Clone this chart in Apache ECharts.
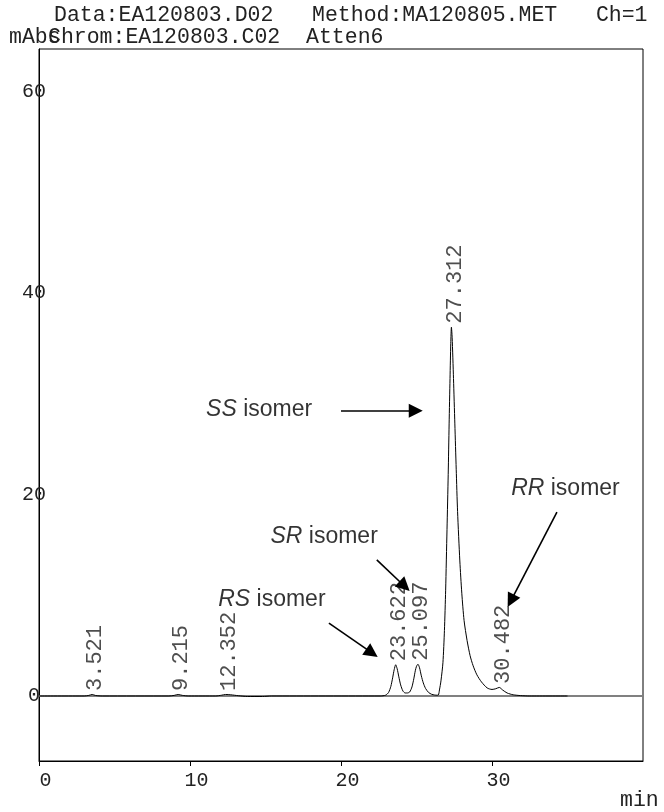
<!DOCTYPE html>
<html><head><meta charset="utf-8">
<script src="https://cdn.jsdelivr.net/npm/echarts@6/dist/echarts.min.js"></script>
<style>html,body{margin:0;padding:0;background:#fff}#c{width:664px;height:812px}</style>
</head><body><div id="c"></div>
<script>
// chromatogram trace: retention time (min) and absorbance (mAbs)
const timeMin = [0, 3.0, 3.3, 3.521, 3.75, 4.2, 8.6, 8.95, 9.215, 9.5, 9.9, 11.7, 12.1, 12.352, 12.7, 13.2, 13.8, 14.8, 15.4,
  22.6, 22.95, 23.15, 23.3, 23.42, 23.52, 23.622, 23.72, 23.83, 23.95, 24.1, 24.25, 24.4,
  24.55, 24.7, 24.82, 24.92, 25.0, 25.097, 25.2, 25.32, 25.45, 25.6, 25.8, 26.0, 26.2, 26.35,
  26.45, 26.52, 26.62, 26.75, 26.85, 26.93, 27.02, 27.10, 27.16, 27.22, 27.27, 27.312, 27.36, 27.45, 27.54, 27.63, 27.72,
  27.87, 28.0, 28.15, 28.35, 28.55, 28.75, 29.0, 29.3, 29.68, 30.0, 30.25, 30.482, 30.7, 31.0, 31.4, 31.9, 32.5, 35.0];
const absorb = [0, 0, 0.06, 0.15, 0.05, 0, 0, 0.06, 0.15, 0.06, 0, 0, 0.08, 0.15, 0.12, 0.03, -0.05, -0.05, 0,
  0, 0.08, 0.35, 0.95, 1.8, 2.6, 3.1, 2.7, 1.9, 1.1, 0.5, 0.3, 0.3,
  0.4, 0.9, 1.7, 2.5, 2.95, 3.15, 2.8, 2.0, 1.3, 0.75, 0.35, 0.17, 0.1, 0.08,
  0.1, 0.6, 1.5, 3.3, 6.5, 10.5, 16.5, 22, 27, 31.5, 35, 36.6, 35.6, 31.5, 27, 22.5, 18.3,
  13.4, 10.2, 7.5, 5.5, 4.0, 3.0, 2.1, 1.4, 0.8, 0.65, 0.72, 0.85, 0.6, 0.3, 0.12, 0.04, 0, 0];

// integrated peaks
const peakTimes = [3.521, 9.215, 12.352, 23.622, 25.097, 27.312, 30.482];
const peakHeights = [0.15, 0.15, 0.15, 3.1, 3.15, 36.6, 0.85];
const peakLabels = ['3.521', '9.215', '12.352', '23.622', '25.097', '27.312', '30.482'];

// axes
const xTicks = [0, 10, 20, 30];
const yTicks = [0, 20, 40, 60];

// isomer annotations (text position and arrow, in data units)
const noteTexts = ['{i|SS} isomer', '{i|SR} isomer', '{i|RS} isomer', '{i|RR} isomer'];
const noteT = [11.1, 15.36, 11.9, 31.3];
const noteV = [28.4, 15.8, 9.5, 20.5];
const arrowFrom = [[20.0, 28.3], [22.37, 13.5], [19.2, 7.24], [34.3, 18.25]];
const arrowTo = [[24.95, 28.3], [24.21, 10.89], [22.05, 4.27], [31.25, 9.44]];

const mono = 'Liberation Mono';
const hdrFont = '21.5px "Liberation Mono"';
const chart = echarts.init(document.getElementById('c'), null, {renderer: 'canvas'});
chart.setOption({
  animation: false,
  backgroundColor: '#fff',
  grid: {left: 39, right: 21, top: 49, bottom: 51, show: true, borderColor: '#000', borderWidth: 1},
  xAxis: {
    type: 'value', min: 0, max: 40, interval: 10,
    axisLine: {onZero: false, lineStyle: {color: '#000', width: 1}},
    axisTick: {show: true, inside: false, length: 5, lineStyle: {color: '#000'}, customValues: xTicks},
    axisLabel: {customValues: xTicks, fontFamily: mono, fontSize: 20, color: '#222', margin: 10, padding: [0, 0, 0, 13]},
    splitLine: {show: false}
  },
  yAxis: {
    type: 'value', min: -6.45, max: 64.2,
    axisLine: {show: true, onZero: false, lineStyle: {color: '#000', width: 1}},
    axisTick: {show: false},
    axisLabel: {customValues: yTicks, fontFamily: mono, fontSize: 20, color: '#222', align: 'center', margin: 5},
    splitLine: {show: false}
  },
  graphic: [
    {type: 'text', left: 54, top: 4, style: {text: 'Data:EA120803.D02   Method:MA120805.MET   Ch=1', font: hdrFont, fill: '#222'}},
    {type: 'text', left: 9, top: 26, style: {text: 'mAbs', font: hdrFont, fill: '#222'}},
    {type: 'text', left: 48, top: 26, style: {text: 'Chrom:EA120803.C02  Atten6', font: hdrFont, fill: '#222'}},
    {type: 'text', left: 620, top: 789, style: {text: 'min', font: hdrFont, fill: '#222'}}
  ],
  series: [
    {
      type: 'line', data: [[0, 0], [40, 0]], symbol: 'none', silent: true, z: 1,
      lineStyle: {color: '#808080', width: 2}
    },
    {
      type: 'line', data: timeMin.map((t, i) => [t, absorb[i]]), symbol: 'none', smooth: 0.25, z: 3,
      lineStyle: {color: '#000', width: 1}
    },
    {
      type: 'scatter', z: 4, symbolSize: 1, itemStyle: {color: 'rgba(0,0,0,0)'},
      data: peakTimes.map((t, i) => ({value: [t, peakHeights[i]], name: peakLabels[i]})),
      label: {show: true, formatter: p => p.name, position: [4, -3], rotate: 90, align: 'left', verticalAlign: 'middle',
        fontFamily: mono, fontSize: 22, color: '#222'}
    },
    {
      type: 'scatter', z: 4, symbolSize: 1, itemStyle: {color: 'rgba(0,0,0,0)'},
      data: noteTexts.map((s, i) => ({value: [noteT[i], noteV[i]], name: s})),
      label: {show: true, formatter: p => p.name, position: [0, 0], align: 'left', verticalAlign: 'middle',
        fontFamily: 'Liberation Sans', fontSize: 23, color: '#000',
        rich: {i: {fontStyle: 'italic', fontFamily: 'Liberation Sans', fontSize: 23, color: '#000'}}}
    },
    {
      type: 'lines', coordinateSystem: 'cartesian2d', z: 5, silent: true,
      symbol: ['none', 'triangle'], symbolSize: [11, 14],
      lineStyle: {color: '#000', width: 1.6, opacity: 1},
      itemStyle: {color: '#000'},
      data: arrowFrom.map((f, i) => ({coords: [f, arrowTo[i]]}))
    }
  ]
});
</script></body></html>
